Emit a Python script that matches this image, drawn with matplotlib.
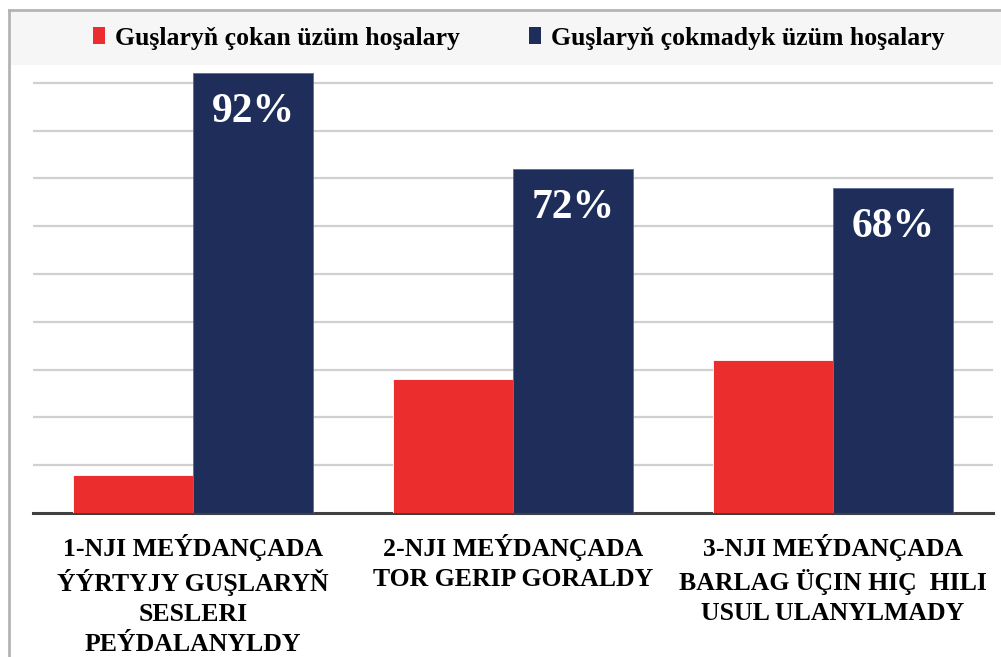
import numpy as np
import matplotlib
matplotlib.use("Agg")
import matplotlib.pyplot as plt
from matplotlib.patches import Patch, Rectangle
from matplotlib.lines import Line2D

categories = [
    "1-NJI MEÝDANÇADA\nÝÝRTYJY GUŞLARYŇ\nSESLERI\nPEÝDALANYLDY",
    "2-NJI MEÝDANÇADA\nTOR GERIP GORALDY",
    "3-NJI MEÝDANÇADA\nBARLAG ÜÇIN HIÇ  HILI\nUSUL ULANYLMADY",
]
pecked = [8, 28, 32]
not_pecked = [92, 72, 68]
series_names = ["Guşlaryň çokan üzüm hoşalary", "Guşlaryň çokmadyk üzüm hoşalary"]

red = "#ec2d2d"
navy = "#1e2d5a"

plt.rcParams["font.family"] = ["Liberation Serif", "DejaVu Serif"]
plt.rcParams["font.weight"] = "bold"

W, H = 1001, 657
fig = plt.figure(figsize=(W / 100, H / 100), dpi=100)

# outer frame and legend band
fig.patches.append(Rectangle((10 / W, 1 - 65 / H), 1, 53 / H, transform=fig.transFigure,
                             facecolor="#f6f6f6", edgecolor="none", zorder=0))
fig.lines.append(Line2D([8.5 / W, 8.5 / W], [0, 1 - 10 / H], transform=fig.transFigure,
                        color="#b4b4b4", lw=2))
fig.lines.append(Line2D([8.5 / W, 1], [1 - 10 / H, 1 - 10 / H], transform=fig.transFigure,
                        color="#b4b4b4", lw=2))

ymax = 92.5
px_per_pct = 4.78
ax_h = ymax * px_per_pct
ax = fig.add_axes([33 / W, (H - 513) / H, 960 / W, ax_h / H])

x = np.arange(len(categories))
w = 0.375
ax.bar(x - w / 2, pecked, w, color=red, edgecolor="white", linewidth=0.6, zorder=3)
ax.bar(x + w / 2, not_pecked, w, color=navy, edgecolor="#5a6c96", linewidth=0.6, zorder=3)

for xi, v in zip(x, not_pecked):
    ax.text(xi + w / 2, v - 8.2, f"{v}%", ha="center", va="center", color="white",
            fontsize=30, fontweight="bold")

ax.set_xlim(-0.5, 2.5)
ax.set_ylim(0, ymax)
ax.set_yticks(np.arange(10, 100, 10))
ax.yaxis.grid(True, color="#d0d0d0", lw=1.6, zorder=0)
ax.tick_params(axis="y", left=False, labelleft=False)
ax.set_xticks(x)
ax.set_xticklabels(categories, fontsize=18.5, fontweight="bold", linespacing=1.38)
ax.tick_params(axis="x", length=0, pad=15)
for s in ["top", "right", "left"]:
    ax.spines[s].set_visible(False)
ax.spines["bottom"].set_color("#404040")
ax.spines["bottom"].set_linewidth(2.2)
ax.set_facecolor("none")

handles = [Patch(facecolor=red), Patch(facecolor=navy)]
fig.legend(handles, series_names, loc="center", bbox_to_anchor=(519 / W, 1 - 38 / H),
           ncol=2, frameon=False, handlelength=0.45, handleheight=0.6,
           handletextpad=0.4, columnspacing=2.7, prop={"weight": "bold", "size": 18.5})

fig.savefig("out.png", dpi=100)
